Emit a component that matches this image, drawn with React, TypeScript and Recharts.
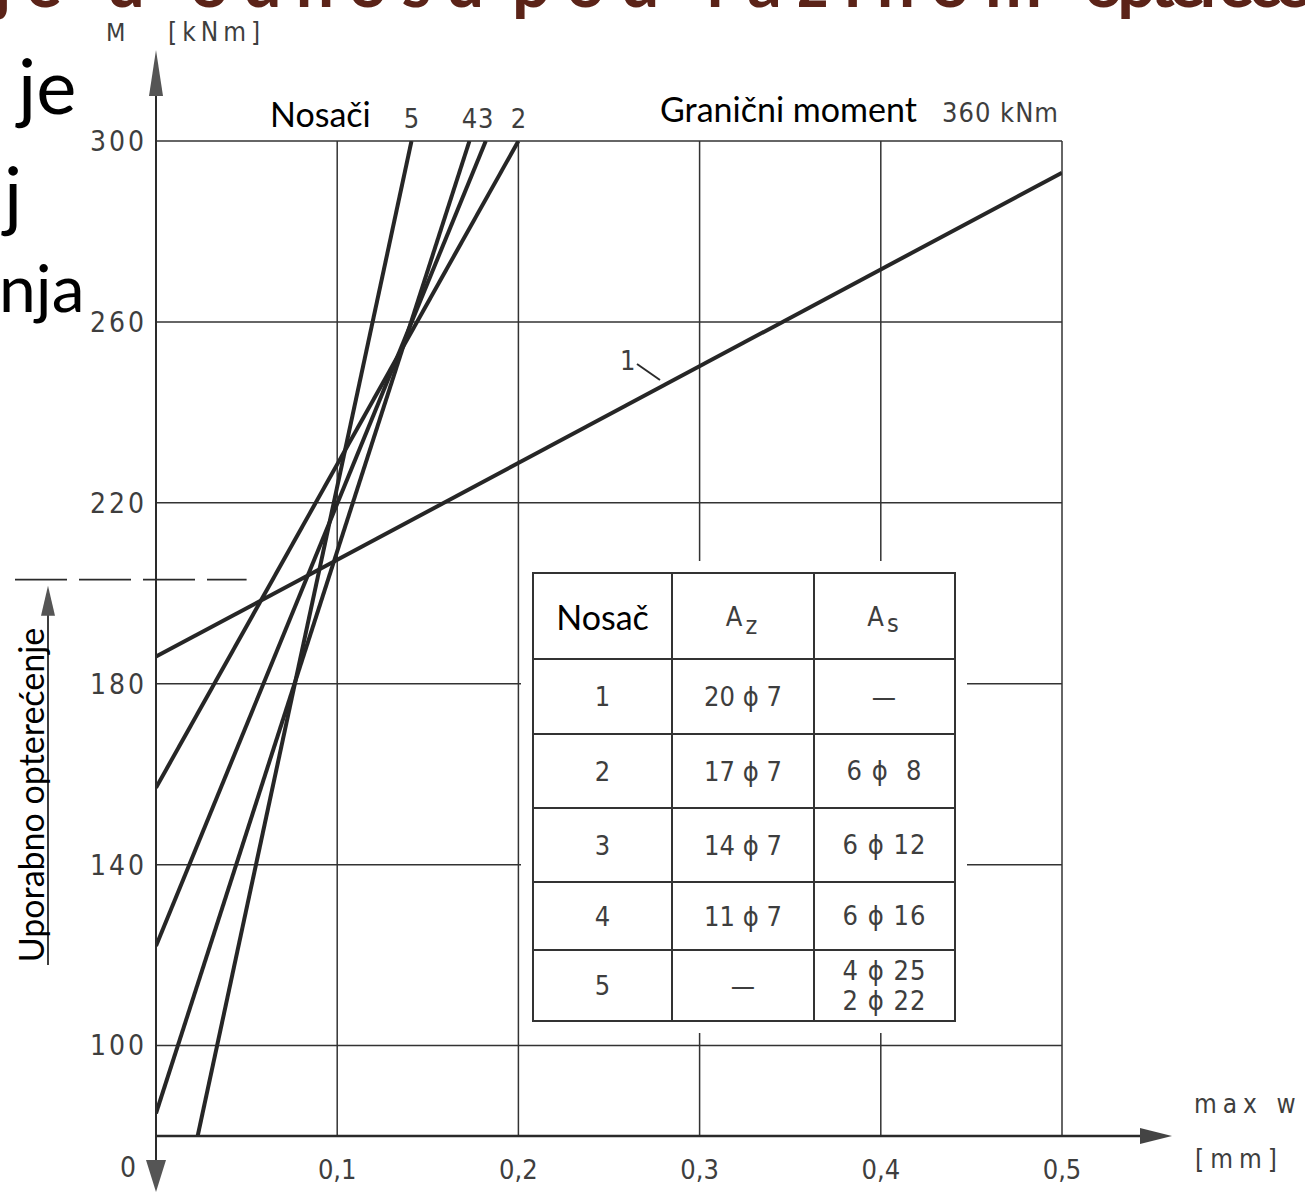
import React from "react";
import {CartesianGrid, Line, LineChart, XAxis, YAxis} from "recharts";

// deflection (max w, mm) and moment (M, kNm), one pair per beam
const nosac1W = [0, 0.5];
const nosac1M = [186, 293];
const nosac2W = [0, 0.2];
const nosac2M = [157, 300];
const nosac3W = [0, 0.182];
const nosac3M = [122, 300];
const nosac4W = [0, 0.173];
const nosac4M = [85, 300];
const nosac5W = [0.023, 0.141];
const nosac5M = [80, 300];

const xTicks = [0.1, 0.2, 0.3, 0.4, 0.5];
const yTicks = [100, 140, 180, 220, 260, 300];
const SERVICE_LOAD = 203;

// table
const nosacNames = ["1", "2", "3", "4", "5"];
const azValues = ["20 ϕ 7", "17 ϕ 7", "14 ϕ 7", "11 ϕ 7", "—"];
const asValues = ["—", "6 ϕ  8", "6 ϕ 12", "6 ϕ 16", "4 ϕ 25\n2 ϕ 22"];

const W = 1305;
const H = 1193;
const PLOT_LEFT = 156;
const PLOT_RIGHT = 1062;
const PLOT_TOP = 141;
const PLOT_BOTTOM = 1136;
const X_MAX = 0.5;
const Y_MIN = 80;
const Y_MAX = 300;

const px = (w: number) => PLOT_LEFT + (w / X_MAX) * (PLOT_RIGHT - PLOT_LEFT);
const py = (m: number) => PLOT_BOTTOM - ((m - Y_MIN) / (Y_MAX - Y_MIN)) * (PLOT_BOTTOM - PLOT_TOP);

const DIN = '"DejaVu Sans Condensed", "Liberation Sans Narrow", sans-serif';
const GILL = 'Lato, "Open Sans", sans-serif';
const INK = "#2a2a2a";
const GREY = "#3e3e3e";
const TITLE = "#5b2318";

const series = [
    {id: "1", w: nosac1W, m: nosac1M},
    {id: "2", w: nosac2W, m: nosac2M},
    {id: "3", w: nosac3W, m: nosac3M},
    {id: "4", w: nosac4W, m: nosac4M},
    {id: "5", w: nosac5W, m: nosac5M},
].map(s => ({id: s.id, data: s.w.map((w, i) => ({w, m: s.m[i]}))}));

const fmtX = (v: number) => v.toFixed(1).replace(".", ",");

const cellBorder = "2px solid #333";
const rowHeights = [75, 74, 74, 68, 71];
const cell = {border: cellBorder, textAlign: "center" as const, fontSize: 27, padding: 0};

const Table = () => (
    <div style={{position: "absolute", left: 521, top: 561, padding: 11, background: "#fff"}}>
        <table style={{borderCollapse: "collapse", tableLayout: "fixed", width: 422, background: "#fff", fontFamily: DIN, color: GREY}}>
            <colgroup>
                <col style={{width: 139}}/>
                <col style={{width: 142}}/>
                <col style={{width: 141}}/>
            </colgroup>
            <tbody>
            <tr style={{height: 86}}>
                <td style={{...cell, fontFamily: GILL, fontSize: 34, color: "#000"}}>Nosač</td>
                <td style={{...cell, letterSpacing: 3}}>
                    A<span style={{position: "relative", top: 8, fontSize: 25}}>z</span>
                </td>
                <td style={{...cell, letterSpacing: 3}}>
                    A<span style={{position: "relative", top: 6, fontSize: 25}}>s</span>
                </td>
            </tr>
            {nosacNames.map((n, i) => (
                <tr key={n} style={{height: rowHeights[i]}}>
                    <td style={cell}>{n}</td>
                    <td style={cell}>{azValues[i]}</td>
                    <td style={{...cell, whiteSpace: "pre", lineHeight: "30px", letterSpacing: 1}}>{asValues[i]}</td>
                </tr>
            ))}
            </tbody>
        </table>
    </div>
);

const Overlay = () => {
    const yS = py(SERVICE_LOAD);
    return (
        <svg width={W} height={H} style={{position: "absolute", left: 0, top: 0, pointerEvents: "none"}}>
            {/* slide text behind the scan, title cut at the top edge */}
            <text x={-6} y={7} fontSize={68} fontWeight={700} fontFamily={GILL} fill={TITLE} textLength={490}>je u odnosu</text>
            <text x={512} y={7} fontSize={68} fontWeight={700} fontFamily={GILL} fill={TITLE} textLength={530}>pod razinom</text>
            <text x={1084} y={7} fontSize={68} fontWeight={700} fontFamily={GILL} fill={TITLE} textLength={300}>opterećenja</text>
            <text x={18} y={114} fontSize={76} fontFamily={GILL} fill="#000">je</text>
            <text x={4} y={222} fontSize={76} fontFamily={GILL} fill="#000">j</text>
            <text x={-1} y={312} fontSize={66} fontFamily={GILL} fill="#000">nja</text>

            {/* axes with arrows */}
            <line x1={PLOT_LEFT} y1={60} x2={PLOT_LEFT} y2={1170} stroke={INK} strokeWidth={2}/>
            <polygon points={`${PLOT_LEFT},50 ${PLOT_LEFT - 7},96 ${PLOT_LEFT + 7},96`} fill="#555"/>
            <polygon points={`${PLOT_LEFT - 10},1160 ${PLOT_LEFT + 10},1160 ${PLOT_LEFT},1192`} fill="#555"/>
            <line x1={PLOT_LEFT} y1={PLOT_BOTTOM} x2={1150} y2={PLOT_BOTTOM} stroke={INK} strokeWidth={2.5}/>
            <polygon points={`1140,${PLOT_BOTTOM - 8} 1140,${PLOT_BOTTOM + 8} 1172,${PLOT_BOTTOM}`} fill="#444"/>

            <text x={120} y={1177} fontSize={28} fontFamily={DIN} fill={GREY}>0</text>
            <text x={106} y={41} fontSize={25} fontFamily={DIN} fill={GREY}>M</text>
            <text x={168} y={41} fontSize={26} fontFamily={DIN} fill={GREY} letterSpacing={5}>[kNm]</text>
            <text x={1194} y={1113} fontSize={26} fontFamily={DIN} fill={GREY} letterSpacing={6}>max  w</text>
            <text x={1195} y={1168} fontSize={26} fontFamily={DIN} fill={GREY} letterSpacing={6}>[mm]</text>

            {/* line labels */}
            <text x={270} y={127} fontSize={34} fontFamily={GILL} fill="#000">Nosači</text>
            {series.slice(1).map(s => (
                <text key={s.id} x={px(s.data[1].w)} y={128} fontSize={27} fontFamily={DIN} fill={GREY} textAnchor="middle">{s.id}</text>
            ))}
            <text x={660} y={122} fontSize={34} fontFamily={GILL} fill="#000">Granični moment</text>
            <text x={942} y={122} fontSize={27} fontFamily={DIN} fill={GREY} letterSpacing={1}>360 kNm</text>
            <text x={620} y={370} fontSize={27} fontFamily={DIN} fill={GREY}>1</text>
            <line x1={637} y1={364} x2={660} y2={380} stroke={INK} strokeWidth={2}/>

            {/* service load */}
            <line x1={15} y1={yS} x2={px(0.05)} y2={yS} stroke={INK} strokeWidth={1.8} strokeDasharray="52 12"/>
            <line x1={48} y1={965} x2={48} y2={yS + 28} stroke={INK} strokeWidth={1.8}/>
            <polygon points={`48,${yS + 6} 41,${yS + 36} 55,${yS + 36}`} fill="#555"/>
            <text x={44} y={795} fontSize={34} fontFamily={GILL} fill="#000" textAnchor="middle"
                  transform="rotate(-90 44 795)">Uporabno opterećenje</text>
        </svg>
    );
};

const App = () => (
    <div style={{position: "absolute", left: 0, top: 0, width: W, height: H, background: "#fff", overflow: "hidden"}}>
        <LineChart width={W} height={H} margin={{top: PLOT_TOP, right: W - PLOT_RIGHT, bottom: 7, left: PLOT_LEFT - 80}}>
            <CartesianGrid stroke="#333" strokeWidth={1.5}/>
            <XAxis type="number" dataKey="w" domain={[0, X_MAX]} ticks={xTicks} tickFormatter={fmtX}
                   axisLine={false} tickLine={false} height={50} tickMargin={18} allowDataOverflow
                   tick={{fill: GREY, fontSize: 27, fontFamily: DIN, letterSpacing: 0}}/>
            <YAxis type="number" dataKey="m" domain={[Y_MIN, Y_MAX]} ticks={yTicks} width={80}
                   axisLine={false} tickLine={false} tickMargin={3} allowDataOverflow
                   tick={{fill: GREY, fontSize: 28, fontFamily: DIN, letterSpacing: 3}}/>
            {series.map(s => (
                <Line key={s.id} data={s.data} dataKey="m" type="linear" stroke="#262626" strokeWidth={4}
                      dot={false} activeDot={false} isAnimationActive={false}/>
            ))}
        </LineChart>
        <Table/>
        <Overlay/>
    </div>
);

export default App;
